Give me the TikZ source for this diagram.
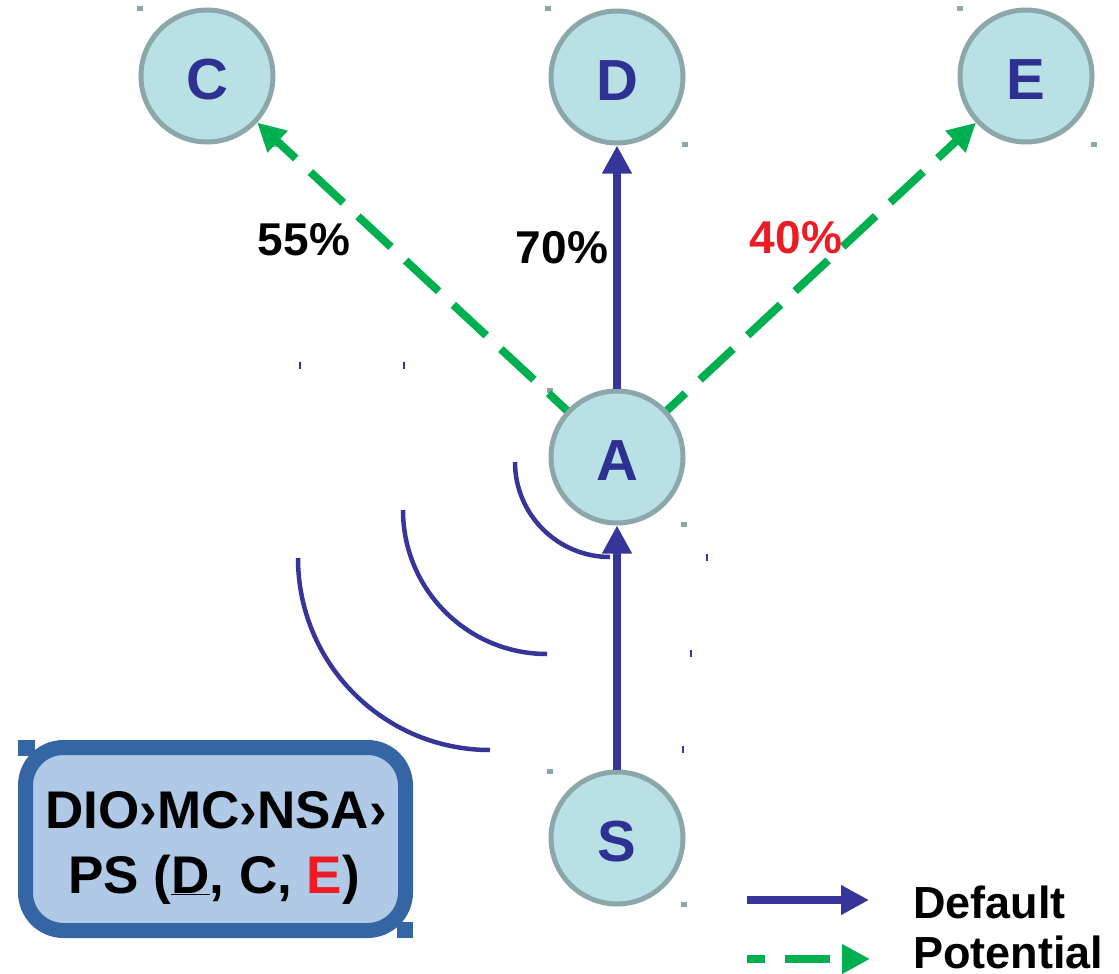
\documentclass[tikz,border=0pt]{standalone}
\usepackage{fontspec}
\setmainfont{Liberation Sans}
\usetikzlibrary{arrows.meta}
\definecolor{nodefill}{HTML}{B9E0E4}
\definecolor{nodeline}{HTML}{8CA7AA}
\definecolor{navy}{HTML}{2E3192}
\definecolor{arrowblue}{HTML}{35359A}
\definecolor{potgreen}{HTML}{00B050}
\definecolor{alertred}{HTML}{ED1C24}
\definecolor{boxline}{HTML}{3466A5}
\definecolor{boxfill}{HTML}{AFC9E6}
\begin{document}
\begin{tikzpicture}[x=1pt,y=-1pt,
  state/.style={circle, draw=nodeline, fill=nodefill, line width=5pt,
    minimum size=132pt, inner sep=0pt, text=navy, text height=47pt, text depth=0pt,
    font=\bfseries\fontsize{58}{62}\selectfont},
  defaultarrow/.style={draw=arrowblue, line width=8pt,
    -{Triangle[length=28pt,width=28pt]}},
  potentialarrow/.style={draw=potgreen, line width=8pt,
    dash pattern=on 45pt off 20pt, dash phase=20pt, -{Triangle[length=28pt,width=28pt]}},
  wave/.style={draw=arrowblue, line width=4.5pt},
  pct/.style={anchor=base, inner sep=0pt, font=\bfseries\fontsize{46}{50}\selectfont},
  legendtext/.style={anchor=base west, inner sep=0pt, font=\bfseries\fontsize{45}{50}\selectfont},
  boxtext/.style={anchor=base, inner sep=0pt, font=\bfseries\fontsize{53}{60}\selectfont},
  cornermark/.style={fill=nodeline},
  tickmark/.style={draw=arrowblue, line width=2pt}]
\useasboundingbox (0,0) rectangle (1119,974);

% signal waves spreading from the source
\draw[wave] (515,462) arc[start angle=180, end angle=270, radius=95pt];
\draw[wave] (403,510) arc[start angle=180, end angle=270, radius=144pt];
\draw[wave] (298,558) arc[start angle=180, end angle=270, radius=192pt];

% small marks left over from the drawing's frames
\foreach \px/\py in {140/9, 275/144, 548/9, 685/144, 960/9, 1094/144,
                     550/390, 684/524, 550/771, 684/904}
  \fill[cornermark] (\px-3,\py-2.5) rectangle (\px+3,\py+2.5);
\foreach \px/\py in {300/365, 404/365, 707/557, 691/653, 683/749}
  \draw[tickmark] (\px,\py-3.5) -- (\px,\py+3.5);

% states
\node[state] (C) at (207,76) {C};
\node[state] (D) at (617,77) {D};
\node[state] (E) at (1026,76) {E};
\node[state] (A) at (617,457) {A};
\node[state] (S) at (617,838) {S};

% transitions
\draw[defaultarrow] (S) -- (A);
\draw[defaultarrow] (A) -- (D);
\draw[potentialarrow] (A) -- (C);
\draw[potentialarrow] (A) -- (E);

% probabilities
\node[pct] (pC) at (304,255) {55\%};
\node[pct] (pD) at (562,263) {70\%};
\node[pct, text=alertred] (pE) at (796,253) {40\%};

% preference box
\fill[boxline] (18,740) rectangle (35,756);
\fill[boxline] (397,922) rectangle (413,938);
\node[draw=boxline, fill=boxfill, line width=15pt, rounded corners=38pt,
      minimum width=380pt, minimum height=183pt, inner sep=0pt] (box) at (215.5,839) {};
\node[boxtext] (line1) at (216,828) {DIO›MC›NSA›};
\node[boxtext] (line2) at (214,893) {PS (\underline{D}, C, \textcolor{alertred}{E})};

% legend
\coordinate (lgDa) at (747,900);
\coordinate (lgDb) at (869,900);
\coordinate (lgPa) at (747,959);
\coordinate (lgPb) at (870,959);
\draw[defaultarrow] (lgDa) -- (lgDb);
\draw[potentialarrow, dash pattern=on 18pt off 20pt on 45pt off 20pt, dash phase=0pt] (lgPa) -- (lgPb);
\node[legendtext] (lgD) at (913,918) {Default};
\node[legendtext] (lgP) at (913,968) {Potential};
\end{tikzpicture}
\end{document}
